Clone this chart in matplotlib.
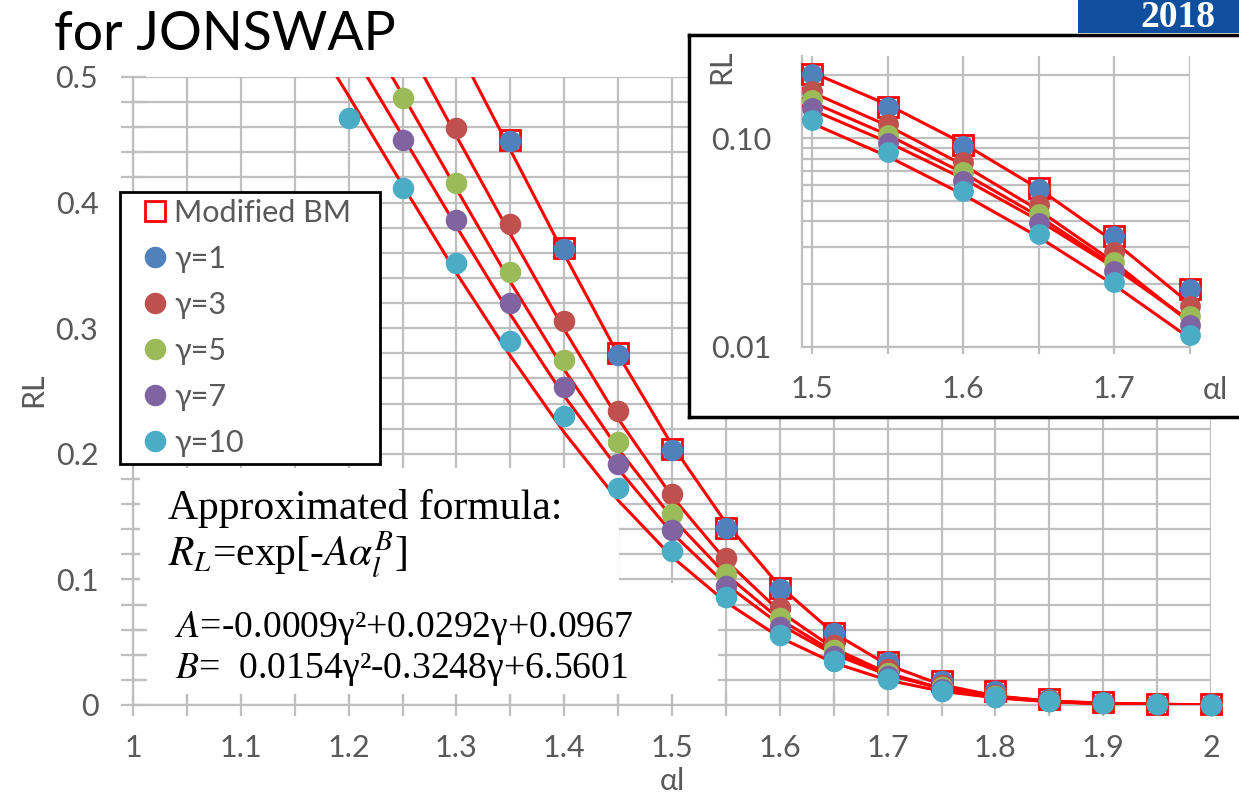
import matplotlib
matplotlib.use("Agg")
from matplotlib import pyplot as plt
from matplotlib.lines import Line2D
from matplotlib.patches import Rectangle
from matplotlib.ticker import MultipleLocator, NullFormatter, FixedLocator

plt.rcParams["font.family"] = ["Lato", "DejaVu Sans"]
plt.rcParams["mathtext.fontset"] = "stix"

# ---- data -------------------------------------------------------------
alpha = [1.15, 1.2, 1.25, 1.3, 1.35, 1.4, 1.45, 1.5, 1.55, 1.6, 1.65,
         1.7, 1.75, 1.8, 1.85, 1.9, 1.95, 2.0]

# fitted curves (red lines), one per gamma, read along alpha
fit_g1 = [0.760, 0.680, 0.604, 0.525, 0.442, 0.359, 0.279, 0.207, 0.145,
          0.0945, 0.0573, 0.0319, 0.0161, 0.0073, 0.0029, 0.0010, 0.0003, 0.0001]
fit_g3 = [0.675, 0.606, 0.532, 0.453, 0.375, 0.299, 0.228, 0.166, 0.115,
          0.0745, 0.0452, 0.0254, 0.0131, 0.0061, 0.0026, 0.0010, 0.0003, 0.0001]
fit_g5 = [0.629, 0.559, 0.486, 0.411, 0.337, 0.267, 0.204, 0.149, 0.104,
          0.0682, 0.0423, 0.0245, 0.0132, 0.0066, 0.0030, 0.0012, 0.0005, 0.0002]
fit_g7 = [0.595, 0.525, 0.453, 0.381, 0.311, 0.246, 0.188, 0.137, 0.096,
          0.0641, 0.0404, 0.0240, 0.0134, 0.0069, 0.0033, 0.0015, 0.0006, 0.0002]
fit_g10 = [0.555, 0.485, 0.414, 0.344, 0.278, 0.217, 0.163, 0.118, 0.082,
           0.0538, 0.0336, 0.0198, 0.0110, 0.0057, 0.0027, 0.0012, 0.0005, 0.0002]

# simulated points
x_g1 = [1.35, 1.4, 1.45, 1.5, 1.55, 1.6, 1.65, 1.7, 1.75, 1.8, 1.85, 1.9, 1.95, 2.0]
y_g1 = [0.449, 0.363, 0.279, 0.203, 0.141, 0.092, 0.0574, 0.034, 0.0189,
        0.011, 0.005, 0.002, 0.001, 0.0004]
y_bm = [0.450, 0.364, 0.280, 0.204, 0.141, 0.093, 0.0577, 0.0342, 0.0190,
        0.011, 0.005, 0.002, 0.001, 0.0004]
x_g3 = [1.3] + x_g1
y_g3 = [0.459, 0.383, 0.306, 0.234, 0.168, 0.117, 0.077, 0.048, 0.0286,
        0.0157, 0.008, 0.004, 0.0015, 0.0006, 0.0002]
x_g5 = [1.25] + x_g3
y_g5 = [0.483, 0.416, 0.345, 0.275, 0.209, 0.152, 0.104, 0.069, 0.0436,
        0.0256, 0.0141, 0.007, 0.003, 0.0012, 0.0005, 0.0002]
x_g7 = x_g5
y_g7 = [0.450, 0.386, 0.320, 0.253, 0.192, 0.139, 0.095, 0.0625, 0.0393,
        0.0232, 0.0127, 0.006, 0.003, 0.0012, 0.0005, 0.0002]
x_g10 = [1.2] + x_g5
y_g10 = [0.467, 0.412, 0.352, 0.290, 0.230, 0.173, 0.123, 0.086, 0.0557,
         0.0347, 0.0205, 0.0114, 0.006, 0.003, 0.0012, 0.0005, 0.0002]

fits = [fit_g1, fit_g3, fit_g5, fit_g7, fit_g10]
series = [
    ("γ=1", x_g1, y_g1, "#4F81BD"),
    ("γ=3", x_g3, y_g3, "#C0504D"),
    ("γ=5", x_g5, y_g5, "#9BBB59"),
    ("γ=7", x_g7, y_g7, "#8064A2"),
    ("γ=10", x_g10, y_g10, "#4BACC6"),
]

W, H = 1239, 798
GRID = "#BFBFBF"
TXT = "#595959"
FS = 22


def fx(px):
    return px / W


def fy(py):
    return 1 - py / H


def keep(xs, ys, lo, hi):
    pairs = [(x, y) for x, y in zip(xs, ys) if lo <= x <= hi]
    return [p[0] for p in pairs], [p[1] for p in pairs]


def draw_data(ax, ms, lo, hi):
    for f in fits:
        ax.plot(alpha, f, color="#FF0000", lw=2.2, zorder=3, solid_capstyle="butt")
    bx, by = keep(x_g1, y_bm, lo, hi)
    ax.plot(bx, by, ls="none", marker="s", ms=ms - 1, mfc="none",
            mec="#FF0000", mew=2.0, zorder=4, clip_on=False)
    for label, xs, ys, color in series:
        px, py = keep(xs, ys, lo, hi)
        ax.plot(px, py, ls="none", marker="o", ms=ms, mfc=color, mec=color,
                mew=0, zorder=5, clip_on=False)


fig = plt.figure(figsize=(W / 100, H / 100), dpi=100)

# ---- main chart -------------------------------------------------------
ax = fig.add_axes([fx(133), fy(705), fx(1211) - fx(133), fy(77) - fy(705)])
ax.set_xlim(1, 2)
ax.set_ylim(0, 0.5)
ax.set_axisbelow(True)
ax.xaxis.set_major_locator(MultipleLocator(0.1))
ax.xaxis.set_minor_locator(MultipleLocator(0.05))
ax.yaxis.set_major_locator(MultipleLocator(0.1))
ax.yaxis.set_minor_locator(MultipleLocator(0.02))
ax.xaxis.set_major_formatter(plt.FuncFormatter(lambda v, p: f"{v:g}"))
ax.yaxis.set_major_formatter(plt.FuncFormatter(lambda v, p: f"{v:g}"))
ax.grid(which="both", color=GRID, lw=1.6)
for side in ["top", "right"]:
    ax.spines[side].set_visible(False)
for side in ["left", "bottom"]:
    ax.spines[side].set_color(GRID)
    ax.spines[side].set_linewidth(1.6)
ax.tick_params(axis="both", which="both", direction="inout", color=GRID,
               width=1.6, labelsize=FS, labelcolor=TXT)
ax.tick_params(axis="y", which="both", length=18, pad=16)
ax.tick_params(axis="x", which="both", length=16, pad=13)

# white text boxes covering the grid
ax.add_patch(Rectangle((1.0065, 0.096), 0.4445, 0.093, facecolor="white",
                       edgecolor="none", zorder=1))
ax.add_patch(Rectangle((1.013, 0.009), 0.53, 0.088, facecolor="white",
                       edgecolor="none", zorder=1))

draw_data(ax, 15.5, 1.0, 2.0)

handles = [Line2D([], [], ls="none", marker="s", ms=14, mfc="none", mec="#FF0000",
                  mew=2.0, label="Modified BM")]
for label, xs, ys, color in series:
    handles.append(Line2D([], [], ls="none", marker="o", ms=15.5, mfc=color,
                          mec=color, mew=0, label=label))
leg = ax.legend(handles=handles, loc="upper left", mode="expand",
                bbox_to_anchor=(fx(120), fy(465), fx(380) - fx(120), fy(192) - fy(465)),
                bbox_transform=fig.transFigure,
                borderaxespad=0, fancybox=False, framealpha=1, edgecolor="black",
                fontsize=FS, labelcolor=TXT, handlelength=1.85, handletextpad=-0.3,
                labelspacing=0.59, borderpad=0.22)
leg.get_frame().set_linewidth(2)
leg.set_zorder(10)

fig.text(fx(33), fy(390), "RL", rotation=90, ha="center", va="center",
         fontsize=FS, color=TXT)
fig.text(fx(672), fy(781), "αl", ha="center", va="center", fontsize=FS, color=TXT)

serif = ["Liberation Serif", "DejaVu Serif"]
fig.text(fx(168), fy(519), "Approximated formula:", family=serif, fontsize=30,
         va="baseline", zorder=20)
fig.text(fx(168), fy(567), r"$R_L$=exp[-$A\alpha_l^B$]", family=serif,
         fontsize=30, va="baseline", zorder=20)
fig.text(fx(175), fy(637), "$A$=-0.0009γ²+0.0292γ+0.0967", family=serif,
         fontsize=27.2, va="baseline", zorder=20)
fig.text(fx(175), fy(678), "$B$=  0.0154γ²-0.3248γ+6.5601", family=serif,
         fontsize=27.2, va="baseline", zorder=20)

fig.text(fx(54), fy(50), "for JONSWAP", fontsize=38.6, color="black", va="baseline")

# logo strip at top right
fig.patches.append(Rectangle((fx(1078), fy(33)), 1 - fx(1078), fy(0) - fy(33),
                             transform=fig.transFigure, facecolor="#0F4F9E",
                             edgecolor="none", zorder=30))
fig.text(fx(1140), fy(27), "2018", family=serif, weight="bold", fontsize=27,
         color="white", va="baseline", zorder=31)

# ---- inset chart ------------------------------------------------------
frame = fig.add_axes([fx(689), fy(417), 0.5, fy(35) - fy(417)])
frame.set_xticks([])
frame.set_yticks([])
for s in frame.spines.values():
    s.set_color("black")
    s.set_linewidth(2.5)

axi = fig.add_axes([fx(802), fy(347), fx(1190) - fx(802), fy(56) - fy(347)])
axi.set_yscale("log")
axi.set_xlim(1.4934, 1.75)
axi.set_ylim(0.01, 0.248)
axi.set_axisbelow(True)
axi.xaxis.set_major_locator(FixedLocator([1.5, 1.6, 1.7]))
axi.xaxis.set_minor_locator(FixedLocator([1.55, 1.65, 1.75]))
axi.xaxis.set_major_formatter(plt.FuncFormatter(lambda v, p: f"{v:g}"))
axi.yaxis.set_major_locator(FixedLocator([0.01, 0.1]))
axi.yaxis.set_major_formatter(plt.FuncFormatter(lambda v, p: f"{v:.2f}"))
axi.yaxis.set_minor_locator(FixedLocator([0.02, 0.03, 0.04, 0.05, 0.06, 0.07,
                                          0.08, 0.09, 0.2]))
axi.yaxis.set_minor_formatter(NullFormatter())
axi.grid(which="both", color=GRID, lw=1.6)
for side in ["top", "right"]:
    axi.spines[side].set_visible(False)
for side in ["left", "bottom"]:
    axi.spines[side].set_color(GRID)
    axi.spines[side].set_linewidth(1.6)
axi.tick_params(axis="x", which="both", direction="out", length=5, width=1.6,
                color=GRID, labelsize=FS, labelcolor=TXT, pad=15)
axi.tick_params(axis="y", which="both", length=0, labelsize=FS, labelcolor=TXT,
                pad=22)
draw_data(axi, 15, 1.5, 1.75)

fig.text(fx(721), fy(67), "RL", rotation=90, ha="center", va="center",
         fontsize=FS, color=TXT)
fig.text(fx(1215), fy(390), "αl", ha="center", va="center", fontsize=FS, color=TXT)

fig.savefig("out.png", dpi=100)
